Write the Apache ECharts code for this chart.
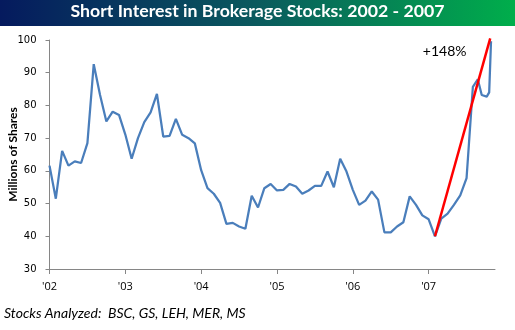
<!DOCTYPE html>
<html>
<head>
<meta charset="utf-8">
<script src="https://cdn.jsdelivr.net/npm/echarts@6/dist/echarts.min.js"></script>
<style>
html,body{margin:0;padding:0;background:#fff;}
#chart{width:515px;height:330px;}
</style>
</head>
<body>
<div id="chart"></div>
<script>
// Observation dates (monthly, semi-monthly at the end) and short interest (millions of shares)
var dates = [
  '2002-01-01','2002-02-01','2002-03-01','2002-04-01','2002-05-01','2002-06-01','2002-07-01','2002-08-01','2002-09-01','2002-10-01','2002-11-01','2002-12-01',
  '2003-01-01','2003-02-01','2003-03-01','2003-04-01','2003-05-01','2003-06-01','2003-07-01','2003-08-01','2003-09-01','2003-10-01','2003-11-01','2003-12-01',
  '2004-01-01','2004-02-01','2004-03-01','2004-04-01','2004-05-01','2004-06-01','2004-07-01','2004-08-01','2004-09-01','2004-10-01','2004-11-01','2004-12-01',
  '2005-01-01','2005-02-01','2005-03-01','2005-04-01','2005-05-01','2005-06-01','2005-07-01','2005-08-01','2005-09-01','2005-10-01','2005-11-01','2005-12-01',
  '2006-01-01','2006-02-01','2006-03-01','2006-04-01','2006-05-01','2006-06-01','2006-07-01','2006-08-01','2006-09-01','2006-10-01','2006-11-01','2006-12-01',
  '2007-01-01','2007-02-01','2007-03-01','2007-04-01','2007-05-01','2007-06-01','2007-07-01','2007-08-01','2007-08-25','2007-09-13','2007-10-07','2007-10-19','2007-10-28'
];
var shortInterest = [
  61.6,51.5,66.1,61.6,62.9,62.4,68.5,92.6,83.2,75.1,78.1,77.1,
  71.1,63.7,70.0,74.9,77.9,83.5,70.5,70.7,75.9,71.0,70.0,68.4,
  60.2,54.7,53.0,50.2,43.8,44.1,43.0,42.3,52.4,48.8,54.7,56.0,
  54.0,54.2,56.0,55.2,53.0,54.0,55.4,55.4,59.8,55.0,63.7,59.8,
  54.2,49.6,50.9,53.7,51.2,41.2,41.2,43.0,44.3,52.2,49.6,46.4,
  45.2,40.0,45.4,46.9,49.6,52.5,57.8,85.7,88.0,83.2,82.7,84.0,99.6
];
// Trend line from the Feb-2007 low to the latest reading
var trendDates = ['2007-02-01','2007-10-24'];
var trendValues = [40.0, 100.5];
var trendLabel = '+148%';
var yearLabels = ["'02","'03","'04","'05","'06","'07"];
var titleText = 'Short Interest in Brokerage Stocks: 2002 - 2007';
var footerText = 'Stocks Analyzed:  BSC, GS, LEH, MER, MS';
var yTitle = 'Millions of Shares';

function monthIndex(d){
  var p = d.split('-').map(Number);
  var dim = new Date(p[0], p[1], 0).getDate();
  return (p[0]-2002)*12 + (p[1]-1) + (p[2]-1)/dim;
}
var lineData = dates.map(function(d,i){ return [monthIndex(d), shortInterest[i]]; });
var trendData = trendDates.map(function(d,i){ return [monthIndex(d), trendValues[i]]; });
var yearTicks = yearLabels.map(function(_,i){ return i*12; });

var chart = echarts.init(document.getElementById('chart'), null, {renderer:'canvas'});
chart.setOption({
  animation:false,
  backgroundColor:'#fff',
  grid:{left:49.5, right:20, top:40, bottom:61, containLabel:false, outerBoundsMode:'none'},
  xAxis:{
    type:'value', min:0, max:70.5,
    axisLine:{show:true, lineStyle:{color:'#868686', width:1}},
    axisTick:{show:true, inside:false, length:5, customValues:yearTicks, lineStyle:{color:'#868686'}},
    axisLabel:{customValues:yearTicks, formatter:function(v){ return yearLabels[Math.round(v/12)]; },
      fontFamily:'Open Sans', fontSize:11, color:'#000', margin:12},
    splitLine:{show:false}
  },
  yAxis:{
    type:'value', min:30, max:100, interval:10,
    name:yTitle, nameLocation:'middle', nameGap:30, nameRotate:90, nameMoveOverlap:false,
    nameTextStyle:{fontFamily:'Lato', fontWeight:'bold', fontSize:12, color:'#000'},
    axisLine:{show:true, lineStyle:{color:'#868686', width:1}},
    axisTick:{show:true, inside:false, length:4, lineStyle:{color:'#868686'}},
    axisLabel:{fontFamily:'DejaVu Sans', fontSize:10, color:'#000', margin:13},
    splitLine:{show:false}
  },
  graphic:[
    {type:'rect', left:0, top:0, shape:{width:515, height:26},
      style:{fill:new echarts.graphic.LinearGradient(0,0,1,0,[
        {offset:0,color:'#051a5e'},{offset:0.5,color:'#0a5a5e'},{offset:1,color:'#00ae4b'}])}},
    {type:'text', left:'center', top:2, style:{text:titleText, fill:'#fff',
      font:'bold 17.7px Lato'}},
    {type:'text', left:4, top:306, style:{text:footerText, fill:'#000',
      font:'italic 14px Lato'}}
  ],
  series:[
    {type:'line', data:lineData, symbol:'none', lineStyle:{color:'#4a7ebb', width:2.25}, z:2},
    {type:'line', data:trendData, symbol:'none', clip:false, lineStyle:{color:'#ff0000', width:2.5}, z:3,
      markPoint:{symbol:'rect', symbolSize:1, silent:true, itemStyle:{color:'rgba(0,0,0,0)'},
        data:[{coord:[monthIndex(trendDates[1])-7.2, 96.6], value:trendLabel}],
        label:{show:true, position:'inside', formatter:trendLabel, fontFamily:'Lato', fontSize:14, color:'#000'}}}
  ]
});
</script>
</body>
</html>
